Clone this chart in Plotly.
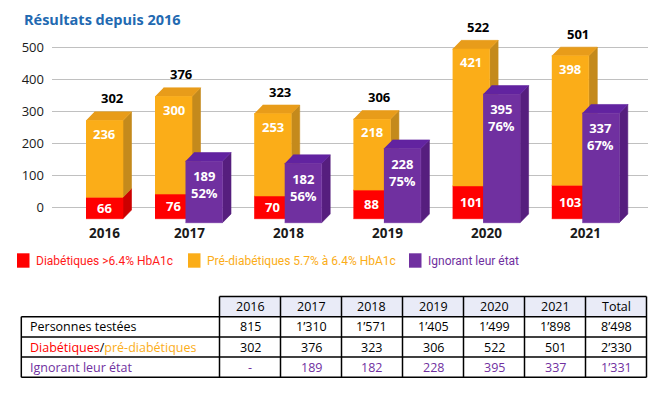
import plotly.graph_objects as go

# ---------------- data ----------------
years = ["2016", "2017", "2018", "2019", "2020", "2021"]
diabetiques = [66, 76, 70, 88, 101, 103]
pre_diabetiques = [236, 300, 253, 218, 421, 398]
totaux = [302, 376, 323, 306, 522, 501]
ignorant = [None, 189, 182, 228, 395, 337]
ignorant_pct = [None, 52, 56, 75, 76, 67]

y_ticks = [0, 100, 200, 300, 400, 500]

title_text = "Résultats depuis 2016"
legend_labels = ["Diabétiques >6.4% HbA1c", "Pré-diabétiques 5.7% à 6.4% HbA1c", "Ignorant leur état"]

table_columns = years + ["Total"]
table_row_labels = ["Personnes testées", "Diabétiques/pré-diabétiques", "Ignorant leur état"]
personnes_testees = [815, 1310, 1571, 1405, 1499, 1898, 8498]
diab_prediab = [302, 376, 323, 306, 522, 501, 2330]
ignorant_table = [None, 189, 182, 228, 395, 337, 1331]

# ---------------- styles ----------------
RED, RED_SIDE = "#FF0000", "#CC0000"
ORA, ORA_TOP, ORA_SIDE = "#FBAD18", "#E89C1A", "#C48A1C"
PUR, PUR_TOP, PUR_SIDE = "#7030A0", "#6223A0", "#561E7E"
BLUE = "#2269B1"
FONT = "Open Sans"
LEG_FONT = "Roboto"

OFF = 8                      # page body margin
W, H = 662 - 2 * OFF, 396 - 2 * OFF
PLOT_L, PLOT_R, PLOT_T, PLOT_B = 52, 648, 20, 245   # page pixels
CAT_PX, CAT1_PX = 99.2, 189.0
GRID0_PX, PX_PER_VAL = 207.0, 0.32


def px_x(x):      # page pixel -> paper x
    return (x - OFF) / W


def px_y(y):      # page pixel -> paper y
    return 1 - (y - OFF) / H


def u_px(px):
    return 1 + (px - CAT1_PX) / CAT_PX


def v_py(py):
    return (GRID0_PX - py) / PX_PER_VAL


def px_u(n):
    return n / CAT_PX


FRONT_K = 0.325 / PX_PER_VAL      # front plane slightly larger (perspective)
ORA_ZERO = v_py(218.7)
PUR_ZERO = v_py(222.7)
DX, DY = px_u(8.5), 8.7 / PX_PER_VAL
HALF_W = px_u(18.5)
ORA_OFF, PUR_OFF = px_u(-15.5), px_u(15.0)
group_u = [u_px(104.5), 1, 2, 3, 4, 5]


def vf(val, zero):
    return zero + val * FRONT_K


faces = {k: ([], []) for k in ["rs", "rf", "os", "ot", "of", "ps", "pt", "pf"]}


def add(key, pts):
    xs, ys = faces[key]
    for x, y in pts:
        xs.append(x)
        ys.append(y)
    xs.append(None)
    ys.append(None)


def box(x0, x1, y0, y1, kf, ks, kt):
    add(kf, [(x0, y0), (x1, y0), (x1, y1), (x0, y1)])
    add(ks, [(x1, y0), (x1 + DX, y0 + DY), (x1 + DX, y1 + DY), (x1, y1)])
    if kt:
        add(kt, [(x0, y1), (x1, y1), (x1 + DX, y1 + DY), (x0 + DX, y1 + DY)])


annotations = []
shapes = []
WHITE_B = dict(family=FONT, size=13, color="white", weight="bold")

for i, yr in enumerate(years):
    has_p = ignorant[i] is not None
    oc = group_u[i] + (ORA_OFF if has_p else 0)
    d, p = diabetiques[i], pre_diabetiques[i]
    y0 = vf(0, ORA_ZERO)
    y1 = vf(d, ORA_ZERO)
    y2 = vf(d + p, ORA_ZERO)
    box(oc - HALF_W, oc + HALF_W, y0, y1, "rf", "rs", None)
    box(oc - HALF_W, oc + HALF_W, y1, y2, "of", "os", "ot")
    annotations.append(dict(x=oc, y=vf(d / 2, ORA_ZERO), text=str(d), showarrow=False,
                            font=WHITE_B, xanchor="center", yanchor="middle"))
    annotations.append(dict(x=oc, y=y2, yshift=-13, text=str(p), showarrow=False,
                            font=WHITE_B, xanchor="center", yanchor="middle"))
    annotations.append(dict(x=oc + px_u(7.5), y=y2 + DY, yshift=13.5, text=str(totaux[i]),
                            showarrow=False, xanchor="center", yanchor="middle",
                            font=dict(family=FONT, size=13, color="black", weight="bold")))
    annotations.append(dict(x=group_u[i], y=v_py(233), text=yr, showarrow=False,
                            xanchor="center", yanchor="middle",
                            font=dict(family=FONT, size=13.5, color="#1A1A1A", weight="bold")))
    if has_p:
        pc = group_u[i] + PUR_OFF
        q0 = vf(0, PUR_ZERO)
        q1 = vf(ignorant[i], PUR_ZERO)
        box(pc - HALF_W, pc + HALF_W, q0, q1, "pf", "ps", "pt")
        annotations.append(dict(x=pc, y=q1, yshift=-23.5,
                                text=f"{ignorant[i]}<br>{ignorant_pct[i]}%", showarrow=False,
                                font=WHITE_B, xanchor="center", yanchor="middle"))

fig = go.Figure()
colors = {"rs": RED_SIDE, "rf": RED, "os": ORA_SIDE, "ot": ORA_TOP, "of": ORA,
          "ps": PUR_SIDE, "pt": PUR_TOP, "pf": PUR}
for key in ["rs", "rf", "os", "ot", "of", "ps", "pt", "pf"]:
    xs, ys = faces[key]
    fig.add_trace(go.Scatter(x=xs, y=ys, mode="lines", fill="toself", fillcolor=colors[key],
                             line=dict(color=colors[key], width=0.6), hoverinfo="skip",
                             showlegend=False))

# ---------------- title ----------------
annotations.append(dict(xref="paper", yref="paper", x=px_x(22), y=px_y(20), text=title_text,
                        showarrow=False, xanchor="left", yanchor="middle",
                        font=dict(family=FONT, size=14.5, color=BLUE, weight="bold")))

# ---------------- legend ----------------
leg_sq = [(17, RED), (188, ORA), (409, PUR)]
leg_txt_x = [33.5, 204.5, 425.5]
leg_txt_col = ["#FF1A1A", ORA, PUR]
for (sx, col), tx, lab, tc in zip(leg_sq, leg_txt_x, legend_labels, leg_txt_col):
    shapes.append(dict(type="rect", xref="paper", yref="paper", x0=px_x(sx), x1=px_x(sx + 12.5),
                       y0=px_y(267.7), y1=px_y(253.3), fillcolor=col, line=dict(width=0)))
    annotations.append(dict(xref="paper", yref="paper", x=px_x(tx), y=px_y(260.5), text=lab,
                            showarrow=False, xanchor="left", yanchor="middle",
                            font=dict(family=LEG_FONT, size=12, color=tc)))

# ---------------- table ----------------
T_LEFT = 21.3
col_x = [219.5 + 61 * k for k in range(8)]
row_y = [296.5 + 20.2 * k for k in range(5)]


def fmt(v):
    if v is None:
        return "-"
    return f"{v:,}".replace(",", "’")


LINE = dict(color="black", width=1.5)
shapes.append(dict(type="rect", xref="paper", yref="paper", x0=px_x(col_x[0]), x1=px_x(col_x[-1]),
                   y0=px_y(row_y[1]), y1=px_y(row_y[0]), fillcolor="#E9EBF7", line=dict(width=0)))
shapes.append(dict(type="line", xref="paper", yref="paper", x0=px_x(col_x[0]), x1=px_x(col_x[-1]),
                   y0=px_y(row_y[0]), y1=px_y(row_y[0]), line=LINE))
for r in [1, 2, 3, 4]:
    shapes.append(dict(type="line", xref="paper", yref="paper", x0=px_x(T_LEFT), x1=px_x(col_x[-1]),
                       y0=px_y(row_y[r]), y1=px_y(row_y[r]), line=LINE))
shapes.append(dict(type="line", xref="paper", yref="paper", x0=px_x(T_LEFT), x1=px_x(T_LEFT),
                   y0=px_y(row_y[1]), y1=px_y(row_y[4]), line=LINE))
for cx in col_x:
    shapes.append(dict(type="line", xref="paper", yref="paper", x0=px_x(cx), x1=px_x(cx),
                       y0=px_y(row_y[0]), y1=px_y(row_y[4]), line=LINE))

TF = 12.5
for c, name in enumerate(table_columns):
    xc = px_x((col_x[c] + col_x[c + 1]) / 2)
    annotations.append(dict(xref="paper", yref="paper", x=xc, y=px_y((row_y[0] + row_y[1]) / 2),
                            text=name, showarrow=False, xanchor="center", yanchor="middle",
                            font=dict(family=FONT, size=TF, color="black")))
    rows = [(personnes_testees[c], "black"), (diab_prediab[c], "black"), (ignorant_table[c], PUR)]
    for r, (val, colr) in enumerate(rows):
        annotations.append(dict(xref="paper", yref="paper", x=xc,
                                y=px_y((row_y[r + 1] + row_y[r + 2]) / 2),
                                text=fmt(val), showarrow=False, xanchor="center", yanchor="middle",
                                font=dict(family=FONT, size=TF, color=colr)))

diab_part, prediab_part = table_row_labels[1].split("/")
label_texts = [
    table_row_labels[0],
    f'<span style="color:{RED}">{diab_part}</span>/<span style="color:{ORA}">{prediab_part}</span>',
    f'<span style="color:{PUR}">{table_row_labels[2]}</span>',
]
for r, txt in enumerate(label_texts):
    annotations.append(dict(xref="paper", yref="paper", x=px_x(27.5),
                            y=px_y((row_y[r + 1] + row_y[r + 2]) / 2), text=txt,
                            showarrow=False, xanchor="left", yanchor="middle",
                            font=dict(family=FONT, size=TF, color="black")))

fig.update_layout(
    width=W, height=H, autosize=False,
    margin=dict(l=0, r=0, t=0, b=0),
    paper_bgcolor="white", plot_bgcolor="white",
    showlegend=False,
    xaxis=dict(domain=[px_x(PLOT_L), px_x(PLOT_R)], range=[u_px(PLOT_L), u_px(PLOT_R)],
               showgrid=False, zeroline=False, showticklabels=False, fixedrange=True),
    yaxis=dict(domain=[px_y(PLOT_B), px_y(PLOT_T)], range=[v_py(PLOT_B), v_py(PLOT_T)],
               tickvals=y_ticks, showgrid=True, gridcolor="#C0C0C0", gridwidth=1,
               zeroline=False, ticks="", ticklabelstandoff=7,
               tickfont=dict(family=FONT, size=13, color="#1A1A1A"), fixedrange=True),
    annotations=annotations,
    shapes=shapes,
)

fig.write_html("out.html")
